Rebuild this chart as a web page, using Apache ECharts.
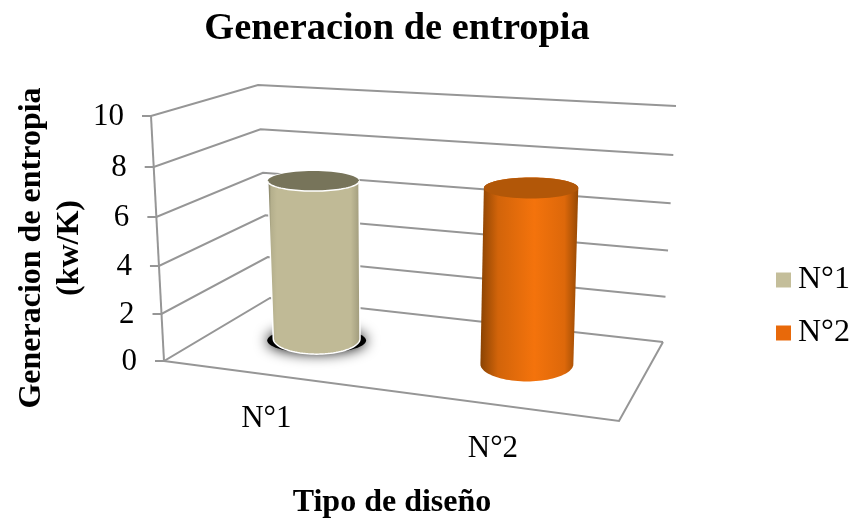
<!DOCTYPE html>
<html>
<head>
<meta charset="utf-8">
<style>html,body{margin:0;padding:0;background:#fff}#chart{width:853px;height:520px}</style>
<script src="https://cdn.jsdelivr.net/npm/echarts@6/dist/echarts.min.js"></script>
</head>
<body>
<div id="chart"></div>
<script>
// Chart values
const categories = ['N°1', 'N°2'];
const entropyValues = [6.85, 7.2];
const valueTicks = [0, 2, 4, 6, 8, 10];

const SERIF = '"Liberation Serif", "Times New Roman", serif';
const GRID_COLOR = '#969696';

// Corners of the drawn box: floor plane and ceiling plane (front-left, front-right, back-right, back-left)
const floorQuad = [[164, 361], [619, 421], [663, 342], [270, 298]];
const ceilQuad = [[151, 116], [620, 140], [676, 106], [258, 85]];

// Unit-square to quadrilateral perspective transform
function homography(q) {
  const [p0, p1, p2, p3] = q;
  const dx1 = p1[0] - p2[0], dx2 = p3[0] - p2[0], sx = p0[0] - p1[0] + p2[0] - p3[0];
  const dy1 = p1[1] - p2[1], dy2 = p3[1] - p2[1], sy = p0[1] - p1[1] + p2[1] - p3[1];
  const den = dx1 * dy2 - dx2 * dy1;
  const g = (sx * dy2 - dx2 * sy) / den, h = (dx1 * sy - sx * dy1) / den;
  const a = p1[0] - p0[0] + g * p1[0], b = p3[0] - p0[0] + h * p3[0];
  const d = p1[1] - p0[1] + g * p1[1], e = p3[1] - p0[1] + h * p3[1];
  return (u, z) => {
    const w = g * u + h * z + 1;
    return [(a * u + b * z + p0[0]) / w, (d * u + e * z + p0[1]) / w];
  };
}
const floorMap = homography(floorQuad);
const ceilMap = homography(ceilQuad);

// u: across the floor, z: front to back, t: height as a share of the axis range
function project(u, z, t) {
  const f = floorMap(u - 0.025 * u * (1 - u), z);
  const c = ceilMap(u - 0.065 * u * (1 - u), z);
  const h = t - 0.05 * t * (1 - t);
  return [f[0] + (c[0] - f[0]) * h, f[1] + (c[1] - f[1]) * h];
}
// Reads axis-derived pixel positions back as shares of the plot rectangle
function toShare(pt, cs) {
  return [(pt[0] - cs.x) / cs.width, (cs.y + cs.height - pt[1]) / cs.height];
}

const RADIUS_Z = 0.235;
const DEPTH = 0.5;

// Level ellipse of the cylinder's cross-section at height t
function section(uc, t) {
  const radiusU = 0.1133 - 0.013 * uc;
  const c = project(uc, DEPTH, t);
  const l = project(uc - radiusU, DEPTH, t), r = project(uc + radiusU, DEPTH, t);
  const n = project(uc, DEPTH - RADIUS_Z, t), b = project(uc, DEPTH + RADIUS_Z, t);
  return { cx: c[0], cy: c[1], rx: (r[0] - l[0]) / 2, ry: Math.abs(n[1] - b[1]) / 2 };
}
function arcPoints(e, from, to) {
  const pts = [];
  const n = 48;
  for (let i = 0; i <= n; i++) {
    const a = from + (to - from) * i / n;
    pts.push([e.cx + Math.cos(a) * e.rx, e.cy + Math.sin(a) * e.ry]);
  }
  return pts;
}

function cylinderItem(look) {
  return function (params, api) {
    const cs = params.coordSys;
    const share = toShare(api.coord([api.value(0), api.value(1)]), cs);
    const uc = share[0], t = share[1];
    const bottom = section(uc, 0), top = section(uc, t);
    const kids = [];
    if (look.shadow) {
      kids.push({
        type: 'ellipse',
        shape: { cx: bottom.cx, cy: bottom.cy + 2, rx: bottom.rx * 1.14, ry: bottom.ry * 0.82 },
        style: { fill: '#000', shadowBlur: 14, shadowColor: '#000' }
      });
    }
    // Body silhouette: front half of the base, right side, back half of the top, left side
    const outline = arcPoints(bottom, Math.PI, 0).concat(arcPoints(top, 0, -Math.PI));
    const x0 = Math.min(bottom.cx - bottom.rx, top.cx - top.rx);
    const x1 = Math.max(bottom.cx + bottom.rx, top.cx + top.rx);
    kids.push({
      type: 'polygon',
      shape: { points: outline },
      style: {
        fill: { type: 'linear', global: true, x: x0, y: 0, x2: x1, y2: 0, colorStops: look.side },
        stroke: look.edge || null,
        lineWidth: look.edge ? 1.5 : 0
      }
    });
    kids.push({
      type: 'ellipse',
      shape: { cx: top.cx, cy: top.cy, rx: top.rx, ry: top.ry },
      style: { fill: look.top }
    });
    if (look.edge) {
      kids.push({
        type: 'polyline',
        shape: { points: arcPoints(top, Math.PI, 0) },
        style: { fill: null, stroke: look.edge, lineWidth: 1.5 }
      });
    }
    return { type: 'group', children: kids };
  };
}

// Walls, floor outline, slanted axis and its labels
function frameItem(params, api) {
  const cs = params.coordSys;
  const tick = api.value(0);
  const t = toShare(api.coord([0, tick]), cs)[1];
  const fl = project(0, 0, t), bl = project(0, 1, t), br = project(1, 1, t);
  const lineStyle = { fill: null, stroke: GRID_COLOR, lineWidth: 2 };
  const kids = [
    { type: 'polyline', shape: { points: [[fl[0] - 9, fl[1]], fl, bl, br] }, style: lineStyle },
    {
      type: 'text', x: fl[0] - 27, y: fl[1] + 0.5,
      style: { text: String(tick), fontFamily: SERIF, fontSize: 31, fill: '#000', align: 'right', verticalAlign: 'middle' }
    }
  ];
  if (tick === 0) {
    const fr = project(1, 0, 0);
    kids.push({ type: 'polyline', shape: { points: [fl, fr, br] }, style: lineStyle });
    kids.push({ type: 'polyline', shape: { points: [fl, project(0, 0, 1)] }, style: lineStyle });
  }
  return { type: 'group', children: kids };
}

// Category names under the front edge of the floor
function categoryLabelItem(params, api) {
  const cs = params.coordSys;
  const u = toShare(api.coord([api.value(0), 0]), cs)[0];
  const p = project(u, 0, 0);
  return {
    type: 'text', x: p[0], y: p[1] + 44,
    style: { text: categories[api.value(0)], fontFamily: SERIF, fontSize: 31, fill: '#000', align: 'center', verticalAlign: 'middle' }
  };
}

const looks = [
  {
    shadow: true,
    edge: '#ffffff',
    top: '#77745a',
    side: [
      { offset: 0, color: '#6b6850' }, { offset: 0.035, color: '#b4af8c' }, { offset: 0.1, color: '#c0ba96' },
      { offset: 0.9, color: '#c0ba96' }, { offset: 1, color: '#a09b7c' }
    ]
  },
  {
    shadow: false,
    edge: null,
    top: '#b25708',
    side: [
      { offset: 0, color: '#8a4303' }, { offset: 0.18, color: '#d2640a' }, { offset: 0.55, color: '#f4730c' },
      { offset: 0.86, color: '#dd680a' }, { offset: 1, color: '#964904' }
    ]
  }
];

const chart = echarts.init(document.getElementById('chart'), null, { renderer: 'canvas' });
chart.setOption({
  animation: false,
  backgroundColor: '#ffffff',
  title: {
    text: 'Generacion de entropia',
    left: 392, top: 5, textAlign: 'center',
    textStyle: { fontFamily: SERIF, fontSize: 38.4, fontWeight: 'bold', color: '#000' }
  },
  grid: { left: 164, top: 116, width: 456, height: 245 },
  xAxis: {
    type: 'category',
    data: categories,
    name: 'Tipo de diseño',
    nameLocation: 'middle',
    nameGap: 141,
    nameTextStyle: { fontFamily: SERIF, fontSize: 32, fontWeight: 'bold', color: '#000' },
    axisLine: { show: false }, axisTick: { show: false }, axisLabel: { show: false }, splitLine: { show: false }
  },
  yAxis: {
    type: 'value', min: 0, max: 10, interval: 2,
    axisLine: { show: false }, axisTick: { show: false }, axisLabel: { show: false }, splitLine: { show: false }
  },
  legend: {
    orient: 'vertical',
    left: 771, top: 259,
    itemWidth: 15, itemHeight: 15, itemGap: 21,
    icon: 'rect',
    textStyle: { fontFamily: SERIF, fontSize: 32, color: '#000', padding: [0, 0, 0, 2] },
    data: categories
  },
  graphic: [{
    type: 'text', x: 51, y: 248, rotation: Math.PI / 2,
    style: {
      text: 'Generacion de entropia\n(kw/K)',
      fontFamily: SERIF, fontSize: 32, fontWeight: 'bold', fill: '#000',
      align: 'center', verticalAlign: 'middle', lineHeight: 38
    }
  }],
  series: [
    {
      name: 'frame', type: 'custom', coordinateSystem: 'cartesian2d', silent: true, clip: false, z: 1,
      encode: { y: 0 }, renderItem: frameItem,
      data: valueTicks.map(v => [v])
    },
    {
      name: 'labels', type: 'custom', coordinateSystem: 'cartesian2d', silent: true, clip: false, z: 1,
      encode: { x: 0 }, renderItem: categoryLabelItem,
      data: categories.map((c, i) => [i])
    }
  ].concat(categories.map((c, i) => ({
    name: c, type: 'custom', coordinateSystem: 'cartesian2d', silent: true, clip: false, z: 2 + i,
    encode: { x: 0, y: 1 },
    itemStyle: { color: i === 0 ? '#c4be9a' : '#e8690a' },
    renderItem: cylinderItem(looks[i]),
    data: [[i, entropyValues[i]]]
  })))
});
</script>
</body>
</html>
